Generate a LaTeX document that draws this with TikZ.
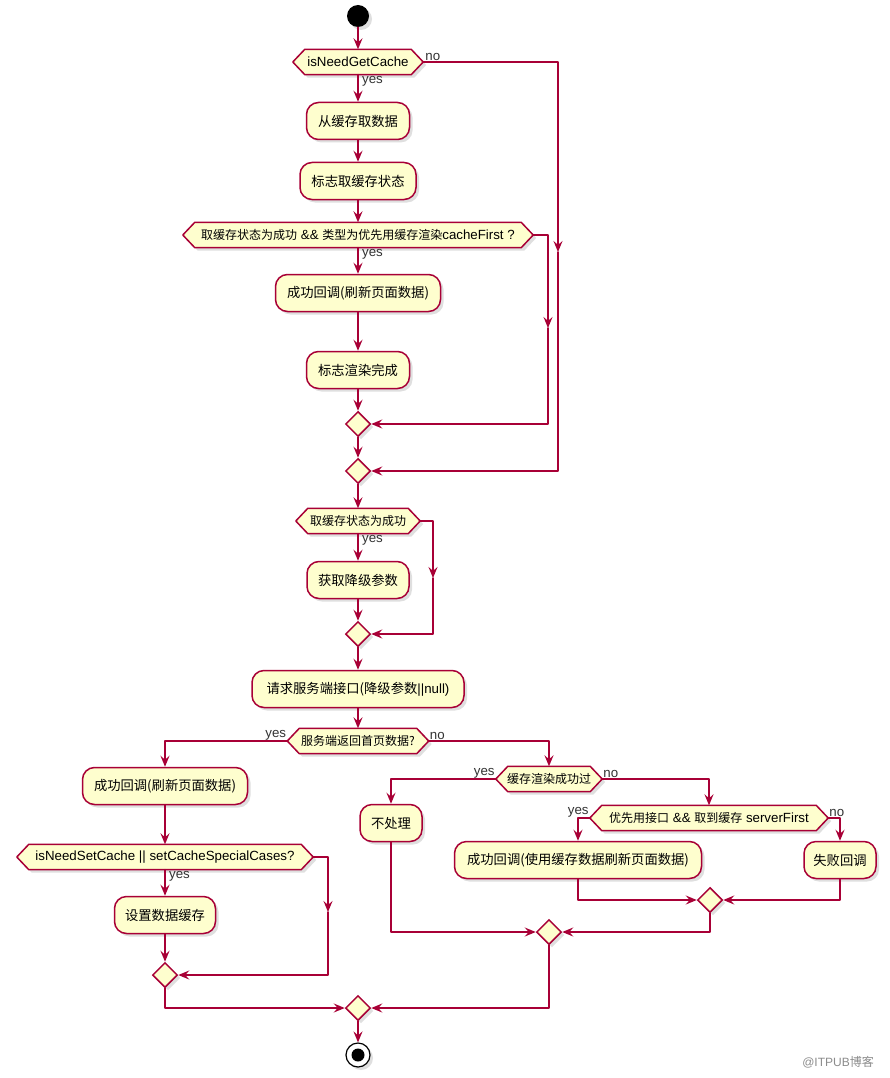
\documentclass[tikz,border=0pt]{standalone}
\usepackage{fontspec}
\setmainfont{Liberation Sans}
\newfontfamily\cjk{Noto Sans CJK SC}
\newcommand\hc{\cjk\fontsize{12}{14}\selectfont}
\usetikzlibrary{arrows.meta,shapes.geometric,shadows}
\definecolor{pred}{HTML}{A80036}
\definecolor{pfill}{HTML}{FEFECE}
\pgfdeclarelayer{back}
\pgfdeclarelayer{bg}
\pgfsetlayers{back,bg,main}
\newcommand\hexdraw[1]{\draw[hexline] (#1.west) -- ([xshift=12pt]#1.north west) -- ([xshift=-12pt]#1.north east) -- (#1.east) -- ([xshift=-12pt]#1.south east) -- ([xshift=12pt]#1.south west) -- cycle;}
\begin{document}
\begin{tikzpicture}[x=1pt,y=-1pt,
  every node/.style={font=\fontsize{13.3}{15}\selectfont},
  shad/.style={drop shadow={opacity=0.25,shadow xshift=3pt,shadow yshift=-3pt}},
  actbox/.style={draw=pred,fill=pfill,line width=1.5pt,rounded corners=12pt,minimum height=37pt,inner xsep=8pt,shad},
  hexbox/.style={minimum height=25pt,inner sep=0pt},
  hexline/.style={draw=pred,fill=pfill,line width=1.5pt,line join=round,shad},
  mergebox/.style={diamond,draw=pred,fill=pfill,line width=1.5pt,minimum width=25pt,minimum height=25pt,inner sep=0pt,shad},
  flow/.style={draw=pred,line width=1.5pt,line cap=round,line join=round},
  arr/.style={flow,-{Stealth[length=11pt,width=9pt,inset=4pt]}},
  lbl/.style={font=\fontsize{13.3}{15}\selectfont,text=black!80,inner sep=1pt},
]
\begin{pgfonlayer}{back}
\fill[white] (0,0) rectangle (890,1078);
\end{pgfonlayer}
\useasboundingbox (0,0) rectangle (890,1078);

% start
\node[circle,fill=black,minimum size=22pt,inner sep=0pt,shad] (start) at (358,16) {};

% main column
\node[hexbox,minimum width=130pt] (h1) at (358,62) {isNeedGetCache};
\node[actbox,minimum width=103pt] (b1) at (358,121) {\cjk 从缓存取数据};
\node[actbox,minimum width=116pt] (b2) at (358,181) {\cjk 标志取缓存状态};
\node[hexbox,minimum width=350pt] (h2) at (358,235) {{\hc 取缓存状态为成功} \&\& {\hc 类型为优先用缓存渲染}cacheFirst ?};
\node[actbox,minimum width=165pt] (b3) at (358,293) {\cjk 成功回调(刷新页面数据)};
\node[actbox,minimum width=103pt] (b4) at (358,370) {\cjk 标志渲染完成};
\node[mergebox] (m1) at (358,424) {};
\node[mergebox] (m2) at (358,471) {};
\node[hexbox,minimum width=124pt] (h3) at (358,521) {\hc 取缓存状态为成功};
\node[actbox,minimum width=102pt] (b5) at (358,580) {\cjk 获取降级参数};
\node[mergebox] (m3) at (358,634) {};
\node[actbox,minimum width=212pt] (b6) at (358,689) {{\cjk 请求服务端接口(降级参数}||null)};
\node[hexbox,minimum width=141pt] (h4) at (358,741) {\hc 服务端返回首页数据?};

% left branch
\node[actbox,minimum width=165pt] (b7) at (165,786) {\cjk 成功回调(刷新页面数据)};
\node[hexbox,minimum width=296pt] (h5) at (165,857) {isNeedSetCache || setCacheSpecialCases?};
\node[actbox,minimum width=101pt] (b8) at (165,915) {\cjk 设置数据缓存};
\node[mergebox] (m4) at (165,975) {};

% right branch
\node[hexbox,minimum width=106pt] (h6) at (549,779) {\hc 缓存渲染成功过};
\node[actbox,minimum width=62pt] (b9) at (391,823) {\cjk 不处理};
\node[hexbox,minimum width=238pt] (h7) at (709,818) {{\hc 优先用接口} \&\& {\hc 取到缓存} serverFirst};
\node[actbox,minimum width=247pt] (b10) at (578,860) {\cjk 成功回调(使用缓存数据刷新页面数据)};
\node[actbox,minimum width=72pt] (b11) at (840,860) {\cjk 失败回调};
\node[mergebox] (m5) at (710,900) {};
\node[mergebox] (m6) at (549,932) {};

% final
\node[mergebox] (m7) at (358,1008) {};
\node[circle,draw=black,fill=white,line width=1.2pt,minimum size=24pt,inner sep=0pt,shad] (end) at (358,1055) {};
\node[circle,fill=black,minimum size=13pt,inner sep=0pt] (enddot) at (end) {};

% hexagon outlines
\begin{pgfonlayer}{bg}
\hexdraw{h1}\hexdraw{h2}\hexdraw{h3}\hexdraw{h4}\hexdraw{h5}\hexdraw{h6}\hexdraw{h7}
\end{pgfonlayer}

% main column connectors
\draw[arr] (start) -- (h1.north);
\draw[arr] (h1.south) -- (b1.north);
\draw[arr] (b1.south) -- (b2.north);
\draw[arr] (b2.south) -- (h2.north);
\draw[arr] (h2.south) -- (b3.north);
\draw[arr] (b3.south) -- (b4.north);
\draw[arr] (b4.south) -- (m1.north);
\draw[arr] (m1.south) -- (m2.north);
\draw[arr] (m2.south) -- (h3.north);
\draw[arr] (h3.south) -- (b5.north);
\draw[arr] (b5.south) -- (m3.north);
\draw[arr] (m3.south) -- (b6.north);
\draw[arr] (b6.south) -- (h4.north);

% skip branches
\coordinate (c1m) at (558,252);
\draw[arr] (h1.east) -| (c1m);
\draw[arr] (c1m) |- (m2.east);
\coordinate (c2m) at (548,328);
\draw[arr] (h2.east) -| (c2m);
\draw[arr] (c2m) |- (m1.east);
\coordinate (c3m) at (433,578);
\draw[arr] (h3.east) -| (c3m);
\draw[arr] (c3m) |- (m3.east);
\coordinate (c5m) at (328,912);
\draw[arr] (h5.east) -| (c5m);
\draw[arr] (c5m) |- (m4.east);

% branches
\draw[arr] (h4.west) -| (b7.north);
\draw[arr] (h4.east) -| (h6.north);
\draw[arr] (b7.south) -- (h5.north);
\draw[arr] (h5.south) -- (b8.north);
\draw[arr] (b8.south) -- (m4.north);
\draw[arr] (h6.west) -| (b9.north);
\draw[arr] (h6.east) -| (h7.north);
\draw[arr] (h7.west) -| (b10.north);
\draw[arr] (h7.east) -| (b11.north);
\draw[arr] (b10.south) |- (m5.west);
\draw[arr] (b11.south) |- (m5.east);
\draw[arr] (b9.south) |- (m6.west);
\draw[arr] (m5.south) |- (m6.east);
\draw[arr] (m4.south) |- (m7.west);
\draw[arr] (m6.south) |- (m7.east);
\draw[arr] (m7.south) -- (end.north);

% labels
\node[lbl,anchor=north west] (y1) at ([xshift=3pt]h1.south) {yes};
\node[lbl,anchor=south west] (n1) at ([xshift=1pt]h1.east) {no};
\node[lbl,anchor=north west] (y2) at ([xshift=3pt]h2.south) {yes};
\node[lbl,anchor=north west] (y3) at ([xshift=3pt]h3.south) {yes};
\node[lbl,anchor=south east] (y4) at (h4.west) {yes};
\node[lbl,anchor=south west] (n4) at (h4.east) {no};
\node[lbl,anchor=north west] (y5) at ([xshift=3pt]h5.south) {yes};
\node[lbl,anchor=south east] (y6) at (h6.west) {yes};
\node[lbl,anchor=south west] (n6) at (h6.east) {no};
\node[lbl,anchor=south east] (y7) at (h7.west) {yes};
\node[lbl,anchor=south west] (n7) at (h7.east) {no};

% watermark
\node[text=black!45,font=\fontsize{12}{14}\selectfont] (wm) at (838,1062) {@ITPUB{\cjk 博客}};
\end{tikzpicture}
\end{document}
